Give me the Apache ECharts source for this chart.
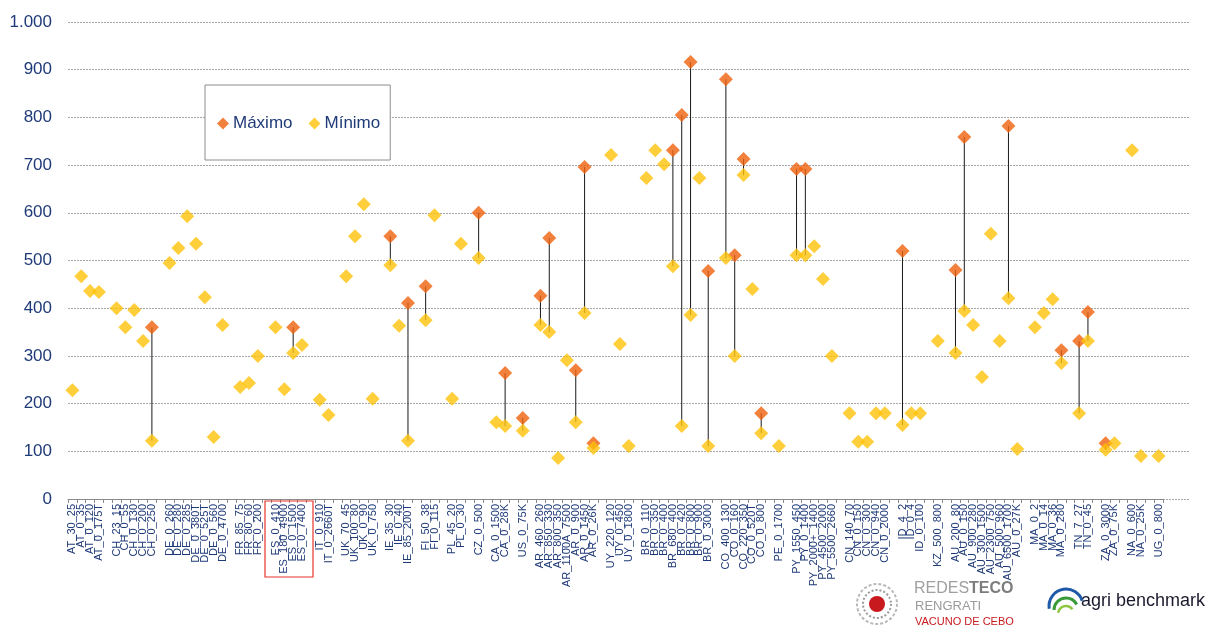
<!DOCTYPE html>
<html>
<head>
<meta charset="utf-8">
<script src="https://cdn.jsdelivr.net/npm/echarts@6/dist/echarts.min.js"></script>
<style>
html,body{margin:0;padding:0;background:#fff;}
#chart{width:1213px;height:626px;}
</style>
</head>
<body>
<div id="chart"></div>
<script>
// Categories (empty strings = gaps between countries)
const categories = [
 'AT_30_25','AT_0_35','AT_0_120','AT_0_175T','',
 'CH_23_15','CH_0_55','CH_0_130','CH_0_200','CH_0_250','',
 'DE_0_260','DE_0_280','DE_0_285','DE_0_380T','DE_0_525T','DE_0_560','DE_0_4700','',
 'FR_85_75','FR_80_60','FR_0_200','',
 'ES_0_410','ES_180_4900','ES_0_1500','ES_0_7400','',
 'IT_0_910','IT_0_2660T','',
 'UK_70_45','UK_100_80','UK_0_90','UK_0_750','',
 'IE_35_30','IE_0_40','IE_85_200T','',
 'FI_50_38','FI_0_115','',
 'PL_45_20','PL_0_30','',
 'CZ_0_500','',
 'CA_0_1500','CA_0_28K','',
 'US_0_75K','',
 'AR_460_260','AR_850_330','AR_800_350','AR_1100A_7500','AR_0_900','AR_0_1450','AR_0_26K','',
 'UY_220_120','UY_0_450','UY_0_1800','',
 'BR_0_110','BR_0_350','BR_0_400','BR_680_400','BR_0_420','BR_0_800','BR_0_900','BR_0_3000','',
 'CO_400_130','CO_0_160','CO_220_350','CO_0_520T','CO_0_800','',
 'PE_0_1700','',
 'PY_1550_450','PY_0_1400','PY_2000+_1400','PY_4500_2000','PY_5500_2660','',
 'CN_140_70','CN_0_150','CN_0_300','CN_0_940','CN_0_2000','',
 'ID_4_2','ID_0_4','ID_0_100','',
 'KZ_500_800','',
 'AU_200_80','AU_0_150','AU_900_280','AU_300_1500','AU_2300_750','AU_500_960','AU_6500_1700','AU_0_27K','',
 'MA_0_2','MA_0_14','MA_0_36','MA_0_280','',
 'TN_7_27','TN_0_45','',
 'ZA_0_3000','ZA_0_75K','',
 'NA_0_600','NA_0_25K','',
 'UG_0_800'
];
const _ = null;
// Máximo values
const maxValues = [
 _,_,_,_,_,
 _,_,_,_,360,_,
 _,_,_,_,_,_,_,_,
 _,_,_,_,
 _,_,360,_,_,
 _,_,_,
 _,_,_,_,_,
 551,_,411,_,
 446,_,_,
 _,_,_,
 600,_,
 _,264,_,
 170,_,
 426,547,_,_,270,696,117,_,
 _,_,_,_,
 _,_,_,731,805,916,_,478,_,
 880,511,713,_,180,_,
 _,_,
 692,692,_,_,_,_,
 _,_,_,_,_,_,
 520,_,_,_,
 _,_,
 480,759,_,_,_,_,782,_,_,
 _,_,_,312,_,
 331,392,_,
 117,_,_,
 _,_,_,
 _
];
// Mínimo values
const minValues = [
 228,467,436,434,_,
 400,360,396,331,122,_,
 495,526,593,535,423,130,365,_,
 235,243,300,_,
 360,230,306,323,_,
 208,176,_,
 467,551,618,210,_,
 490,363,122,_,
 375,595,_,
 210,535,_,
 505,_,
 161,153,_,
 143,_,
 365,350,86,291,161,390,107,_,
 721,325,111,_,
 673,731,702,488,153,386,673,111,_,
 505,300,679,440,138,_,
 111,_,
 511,511,530,461,300,_,
 180,120,120,180,180,_,
 155,180,180,_,
 331,_,
 306,394,365,256,556,331,421,105,_,
 360,390,419,285,_,
 180,331,_,
 103,117,_,
 731,90,_,
 90
];
const yTicks = { min: 0, max: 1000, interval: 100 };

const navy = '#1F3A78';
const rangeData = [];
for (let i = 0; i < categories.length; i++) {
  if (maxValues[i] != null && minValues[i] != null) rangeData.push([i, minValues[i], maxValues[i]]);
}

const chart = echarts.init(document.getElementById('chart'), null, {renderer: 'canvas'});
const option = {
  backgroundColor: '#ffffff',
  animation: false,
  textStyle: { fontFamily: 'Liberation Sans, Arial, sans-serif' },
  grid: [
    { left: 68, right: 50, top: 22, bottom: 127 },
    { left: 1163, right: 23, top: 22, bottom: 127 }
  ],
  legend: {
    left: 205, top: 85,
    padding: [30, 10, 28, 12],
    borderColor: '#8c8c8c', borderWidth: 1, backgroundColor: '#fff',
    itemWidth: 12, itemHeight: 12, itemGap: 16,
    icon: 'diamond',
    textStyle: { color: navy, fontSize: 17, padding: [0,0,0,-1] },
    data: ['Máximo', 'Mínimo']
  },
  xAxis: [{
    type: 'category', gridIndex: 0, data: categories, boundaryGap: true,
    axisLine: { lineStyle: { color: '#8a8a8a', width: 1 } },
    axisTick: { show: true, interval: 0, length: 4, lineStyle: { color: '#8a8a8a' } },
    axisLabel: { interval: 0, rotate: 90, fontSize: 11, color: navy, margin: 5 },
    splitLine: { show: false }
  }, {
    type: 'value', gridIndex: 1, show: false, min: 0, max: 1
  }],
  yAxis: [{
    type: 'value', gridIndex: 0, min: yTicks.min, max: yTicks.max, interval: yTicks.interval,
    axisLine: { show: false }, axisTick: { show: false },
    axisLabel: { fontSize: 17, color: navy, margin: 16,
      formatter: v => v >= 1000 ? (Math.floor(v/1000) + '.' + String(v%1000).padStart(3,'0')) : String(v) },
    splitLine: { lineStyle: { color: '#a6a6a6', type: [2, 1], width: 1 } }
  }, {
    type: 'value', gridIndex: 1, min: yTicks.min, max: yTicks.max, interval: yTicks.interval,
    axisLine: { show: false }, axisTick: { show: false }, axisLabel: { show: false },
    splitLine: { lineStyle: { color: '#a6a6a6', type: [2, 1], width: 1 } }
  }],
  series: [
    {
      type: 'custom', name: 'range', xAxisIndex: 0, yAxisIndex: 0, z: 1,
      data: rangeData,
      encode: { x: 0, y: [1, 2] },
      renderItem: function (params, api) {
        const a = api.coord([api.value(0), api.value(1)]);
        const b = api.coord([api.value(0), api.value(2)]);
        return { type: 'line', shape: { x1: a[0], y1: a[1], x2: b[0], y2: b[1] },
                 style: { stroke: '#1a1a1a', lineWidth: 1 } };
      },
      silent: true
    },
    {
      name: 'Máximo', type: 'scatter', xAxisIndex: 0, yAxisIndex: 0, z: 3,
      symbol: 'diamond', symbolSize: 14,
      itemStyle: { color: '#F0620E' },
      data: maxValues
    },
    {
      name: 'Mínimo', type: 'scatter', xAxisIndex: 0, yAxisIndex: 0, z: 4,
      symbol: 'diamond', symbolSize: 14,
      itemStyle: { color: '#FFC20A' },
      data: minValues
    }
  ],
  graphic: [
    { type: 'rect', z: 100, shape: { x: 265, y: 501, width: 48, height: 76 },
      style: { fill: 'none', stroke: '#E8342C', lineWidth: 1.2 } },
    // REDESTECO logo
    { type: 'circle', shape: { cx: 877, cy: 604, r: 20 }, style: { fill: 'none', stroke: '#b8b8b8', lineWidth: 2, lineDash: [3, 2] } },
    { type: 'circle', shape: { cx: 877, cy: 604, r: 14 }, style: { fill: 'none', stroke: '#9a9a9a', lineWidth: 2, lineDash: [2, 2] } },
    { type: 'circle', shape: { cx: 877, cy: 604, r: 8 }, style: { fill: '#C8191E' } },
    { type: 'text', left: 914, top: 581, style: { text: 'REDES', fill: '#a0a0a0', font: '16px Liberation Sans, Arial' } },
    { type: 'text', left: 969, top: 581, style: { text: 'TECO', fill: '#7d7d7d', font: 'bold 16px Liberation Sans, Arial' } },
    { type: 'text', left: 915, top: 600, style: { text: 'RENGRATI', fill: '#9a9a9a', font: '13px Liberation Sans, Arial' } },
    { type: 'text', left: 915, top: 616, style: { text: 'VACUNO DE CEBO', fill: '#C8191E', font: '11px Liberation Sans, Arial' } },
    // agri benchmark logo
    { type: 'arc', shape: { cx: 1066, cy: 606, r: 17, startAngle: Math.PI * 0.95, endAngle: Math.PI * 1.9 }, style: { stroke: '#1E5AA8', lineWidth: 3, fill: 'none' } },
    { type: 'arc', shape: { cx: 1066, cy: 610, r: 12, startAngle: Math.PI * 1.0, endAngle: Math.PI * 1.85 }, style: { stroke: '#3A9A3A', lineWidth: 3, fill: 'none' } },
    { type: 'arc', shape: { cx: 1066, cy: 614, r: 8, startAngle: Math.PI * 1.05, endAngle: Math.PI * 1.8 }, style: { stroke: '#8DC63F', lineWidth: 2.5, fill: 'none' } },
    { type: 'text', left: 1081, top: 592, style: { text: 'agri benchmark', fill: '#1a1a2e', font: '18px Liberation Sans, Arial' } }
  ]
};
chart.setOption(option);
</script>
</body>
</html>
